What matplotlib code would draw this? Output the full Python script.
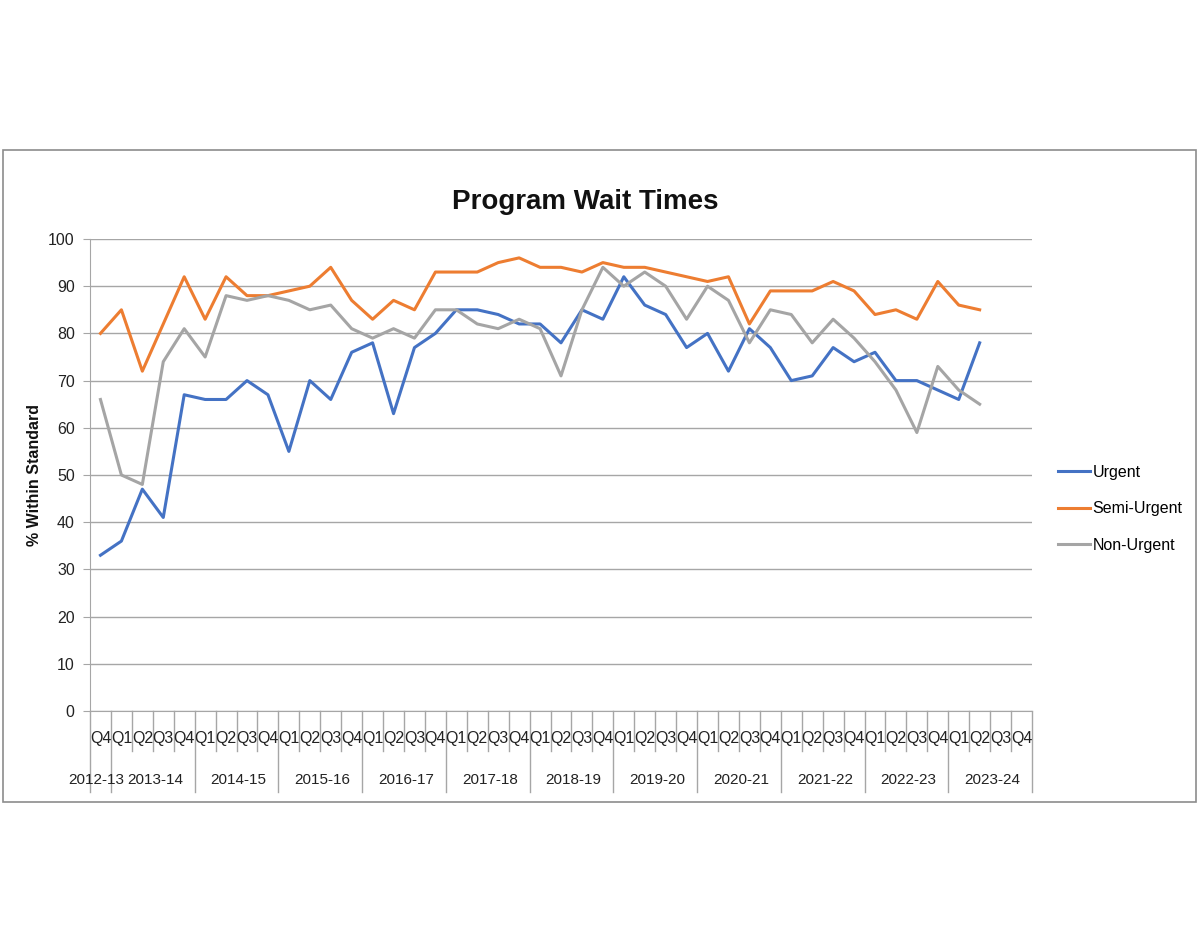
import matplotlib
matplotlib.use('Agg')
import matplotlib.pyplot as plt
from matplotlib.patches import Rectangle
import matplotlib.transforms as mtransforms

plt.rcParams['font.family'] = ['Liberation Sans Narrow', 'Liberation Sans', 'DejaVu Sans']

# data, 2012-13 Q4 .. 2023-24 Q2
years = ['2012-13', '2013-14', '2014-15', '2015-16', '2016-17', '2017-18',
         '2018-19', '2019-20', '2020-21', '2021-22', '2022-23', '2023-24']
quarters = ['Q4'] + ['Q1', 'Q2', 'Q3', 'Q4'] * 11

urgent = [33, 36, 47, 41, 67, 66, 66, 70, 67, 55, 70, 66, 76, 78, 63, 77,
          80, 85, 85, 84, 82, 82, 78, 85, 83, 92, 86, 84, 77, 80, 72, 81,
          77, 70, 71, 77, 74, 76, 70, 70, 68, 66, 78]
semi_urgent = [80, 85, 72, 82, 92, 83, 92, 88, 88, 89, 90, 94, 87, 83, 87, 85,
               93, 93, 93, 95, 96, 94, 94, 93, 95, 94, 94, 93, 92, 91, 92, 82,
               89, 89, 89, 91, 89, 84, 85, 83, 91, 86, 85]
non_urgent = [66, 50, 48, 74, 81, 75, 88, 87, 88, 87, 85, 86, 81, 79, 81, 79,
              85, 85, 82, 81, 83, 81, 71, 85, 94, 90, 93, 90, 83, 90, 87, 78,
              85, 84, 78, 83, 79, 74, 68, 59, 73, 68, 65]

W, H = 1200, 927
fig = plt.figure(figsize=(W / 100, H / 100), dpi=100)

# outer chart border
fig.patches.append(Rectangle((3 / W, 1 - 802 / H), 1193 / W, 652 / H,
                             transform=fig.transFigure, fill=False,
                             edgecolor='#8c8c8c', linewidth=1.2))

ax = fig.add_axes([90 / W, 1 - 711 / H, 942 / W, 472 / H])

grid_c = '#a6a6a6'
ax.plot(range(len(urgent)), urgent, color='#4472C4', lw=2.2, label='Urgent')
ax.plot(range(len(semi_urgent)), semi_urgent, color='#ED7D31', lw=2.2, label='Semi-Urgent')
ax.plot(range(len(non_urgent)), non_urgent, color='#A5A5A5', lw=2.2, label='Non-Urgent')

n = len(quarters)
ax.set_xlim(-0.5, n - 0.5)
ax.set_ylim(0, 100)
ax.set_yticks(range(0, 101, 10))
ax.yaxis.grid(True, color=grid_c, lw=1)
ax.set_axisbelow(True)
ax.tick_params(axis='y', length=5, color=grid_c, labelsize=11.5, labelcolor='#222222', pad=6)
ax.set_xticks([])
for s in ['top', 'right']:
    ax.spines[s].set_visible(False)
ax.spines['left'].set_color(grid_c)
ax.spines['bottom'].set_color(grid_c)

# two-level category axis
trans = mtransforms.blended_transform_factory(ax.transData, ax.transAxes)
year_edges = [0] + list(range(1, n + 1, 4))
for i in range(n + 1):
    depth = -81 / 472 if i in year_edges else -40 / 472
    ax.plot([i - 0.5, i - 0.5], [0, depth], transform=trans, color=grid_c,
            lw=1, clip_on=False)
for i, q in enumerate(quarters):
    ax.text(i, -27 / 472, q, transform=trans, ha='center', va='center',
            fontsize=11.5, color='#222222')
for k, y in enumerate(years):
    if k == 0:
        c = -0.2
    else:
        c = 1 + (k - 1) * 4 + 1.6
    ax.text(c, -69 / 472, y, transform=trans, ha='center', va='center',
            fontsize=11, color='#222222')

fig.text(585 / W, 1 - 202 / H, 'Program Wait Times', ha='center', va='center',
         fontsize=20, fontweight='bold', color='#111111')
fig.text(35 / W, 1 - 475 / H, '% Within Standard', ha='center', va='center',
         rotation=90, fontsize=11.5, fontweight='bold', color='#111111')

fig.legend(loc='center left', bbox_to_anchor=(1058 / W, 1 - 509 / H),
           frameon=False, fontsize=11.5, handlelength=2.0, handletextpad=0.15,
           labelspacing=1.35, borderpad=0, borderaxespad=0)

fig.savefig('out.png', dpi=100)
